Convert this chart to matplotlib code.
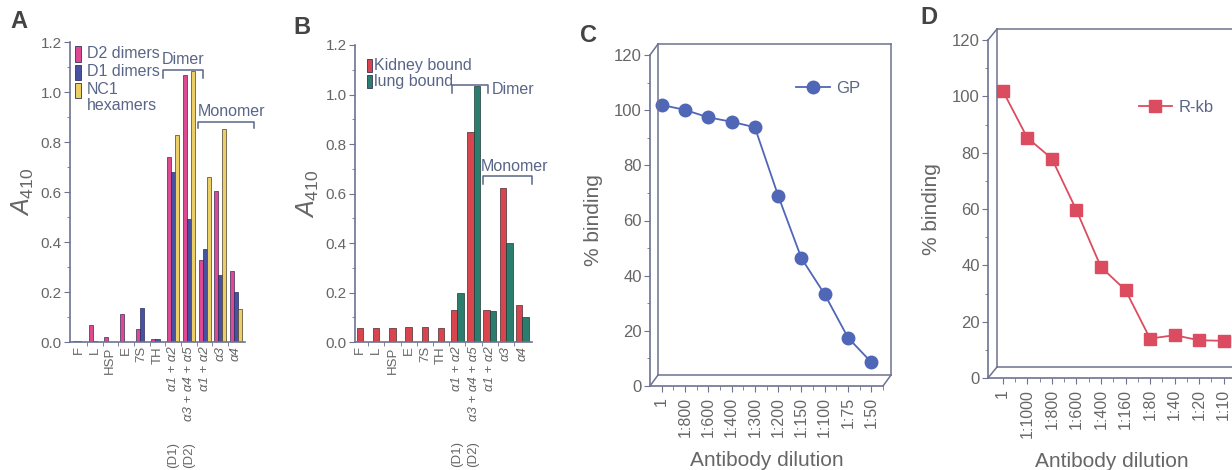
import numpy as np
import matplotlib
matplotlib.use("Agg")
import matplotlib.pyplot as plt
from matplotlib.lines import Line2D
from matplotlib.patches import Rectangle

plt.rcParams['font.family'] = ['Liberation Sans', 'DejaVu Sans']
plt.rcParams['mathtext.fontset'] = 'custom'
plt.rcParams['mathtext.rm'] = 'Liberation Sans'
plt.rcParams['mathtext.it'] = 'Liberation Sans:italic'

# ---- data ----
cats = ['F', 'L', 'HSP', 'E', '7S', 'TH', 'α1 + α2', 'α3 + α4 + α5', 'α1 + α2', 'α3', 'α4']
d2_dimers = [0.005, 0.07, 0.02, 0.113, 0.053, 0.013, 0.74, 1.067, 0.327, 0.603, 0.284]
d1_dimers = [0.004, 0.005, 0.0, 0.0, 0.136, 0.013, 0.68, 0.493, 0.373, 0.267, 0.20]
nc1_hexamers = [0.0, 0.0, 0.0, 0.0, 0.0, 0.0, 0.827, 1.083, 0.66, 0.853, 0.133]

kidney_bound = [0.058, 0.058, 0.055, 0.062, 0.062, 0.055, 0.128, 0.847, 0.13, 0.623, 0.148]
lung_bound = [np.nan, np.nan, np.nan, np.nan, np.nan, np.nan, 0.2, 1.034, 0.125, 0.40, 0.101]

gp_dilutions = ['1', '1:800', '1:600', '1:400', '1:300', '1:200', '1:150', '1:100', '1:75', '1:50']
gp_binding = [101.9, 100.1, 97.4, 95.8, 93.8, 69.0, 46.3, 33.2, 17.5, 8.6]

rkb_dilutions = ['1', '1:1000', '1:800', '1:600', '1:400', '1:160', '1:80', '1:40', '1:20', '1:10']
rkb_binding = [102.0, 85.3, 77.9, 59.6, 39.4, 31.2, 14.0, 15.2, 13.4, 13.2]

# ---- style ----
W, H = 1232, 470
TXT = '#5a6688'
TICK = '#666666'
AXC = '#6d7391'
PINK, BLUE, YELLOW = '#de4a92', '#4752a3', '#ebcf66'
RED, TEAL = '#d8454f', '#2b7d6e'
C_BLUE, D_RED = '#5066b6', '#dc4c60'


def rect(l, t, r, b):
    return [l / W, 1 - b / H, (r - l) / W, (b - t) / H]


def fx(x):
    return x / W


def fy(y):
    return 1 - y / H


fig = plt.figure(figsize=(W / 100, H / 100), dpi=100)


def style_bar_axes(ax, ymax=1.2):
    for s in ['top', 'right']:
        ax.spines[s].set_visible(False)
    for s in ['left', 'bottom']:
        ax.spines[s].set_color(AXC)
        ax.spines[s].set_linewidth(1.2)
    ax.set_ylim(0, ymax)
    ax.set_yticks(np.arange(0, 1.21, 0.2))
    ax.set_yticklabels(['%.1f' % v for v in np.arange(0, 1.21, 0.2)])
    ax.set_yticks(np.arange(0.1, 1.2, 0.2), minor=True)
    ax.tick_params(axis='y', which='major', length=4, color=AXC, labelcolor=TICK, labelsize=11, pad=2)
    ax.tick_params(axis='y', which='minor', length=2.5, color=AXC)
    x = np.arange(len(cats))
    ax.set_xticks(x)
    ax.set_xticklabels(cats, rotation=90, fontsize=9.5, color=TICK)
    ax.set_xticks(x[:-1] + 0.5, minor=True)
    ax.tick_params(axis='x', which='major', length=0, pad=3)
    ax.tick_params(axis='x', which='minor', length=3, color=AXC)
    for lab in ax.get_xticklabels()[6:]:
        lab.set_fontstyle('italic')
    ax.set_ylabel('$A_{410}$', fontsize=18, color=TICK, labelpad=3)
    for i, s in [(6, '(D1)'), (7, '(D2)')]:
        ax.text(i, -0.42, s, rotation=90, ha='center', va='bottom', fontsize=9.5,
                color=TICK, transform=ax.get_xaxis_transform(), clip_on=False)


def bracket(ax, x0, x1, y, drop):
    ax.plot([x0, x0, x1, x1], [y - drop, y, y, y - drop], color=TXT, lw=1.1, clip_on=False)


def manual_legend(ax, items, x0, y0, dy, size, gap, fs):
    for k, (col, lab) in enumerate(items):
        yy = y0 - k * dy
        ax.add_patch(Rectangle((x0, yy - size / 2), size * 0.6, size, transform=ax.transAxes,
                               facecolor=col, edgecolor='#33335a', lw=0.6, clip_on=False))
        ax.text(x0 + size * 0.6 + gap, yy, lab, transform=ax.transAxes, ha='left', va='center',
                fontsize=fs, color=TXT)


# ---- panel A ----
axA = fig.add_axes(rect(70, 42, 245, 342))
x = np.arange(len(cats))
w = 0.26
axA.bar(x - w, d2_dimers, w, color=PINK, edgecolor='#3a2a5a', lw=0.5)
axA.bar(x, d1_dimers, w, color=BLUE, edgecolor='#2a2a5a', lw=0.5)
axA.bar(x + w, nc1_hexamers, w, color=YELLOW, edgecolor='#4a4030', lw=0.5)
axA.set_xlim(-0.57, 10.57)
style_bar_axes(axA)
manual_legend(axA, [(PINK, 'D2 dimers'), (BLUE, 'D1 dimers'), (YELLOW, 'NC1')],
              0.03, 0.96, 0.06, 0.05, 0.035, 11.5)
axA.text(0.03 + 0.03 + 0.035, 0.96 - 3 * 0.06 + 0.01, 'hexamers', transform=axA.transAxes,
         ha='left', va='center', fontsize=11.5, color=TXT)
bracket(axA, 5.35, 7.9, 1.088, 0.03)
axA.text(6.65, 1.1, 'Dimer', ha='center', va='bottom', fontsize=11.5, color=TXT)
bracket(axA, 7.58, 11.15, 0.88, 0.025)
axA.text(7.58, 0.892, 'Monomer', ha='left', va='bottom', fontsize=11.5, color=TXT)
fig.text(fx(10), fy(22), 'A', fontsize=17, fontweight='bold', color='#444444', va='center')

# ---- panel B ----
axB = fig.add_axes(rect(355, 45, 532, 342))
wb = 0.4
lung = np.array(lung_bound)
single = np.isnan(lung)
kid_x = np.where(single, x, x - wb / 2)
axB.bar(kid_x, kidney_bound, wb, color=RED, edgecolor='#4a2a30', lw=0.5)
axB.bar(x + wb / 2, np.nan_to_num(lung), wb, color=TEAL, edgecolor='#1f3a35', lw=0.5)
axB.set_xlim(-0.31, 10.6)
style_bar_axes(axB)
manual_legend(axB, [(RED, 'Kidney bound'), (TEAL, 'lung bound')],
              0.07, 0.93, 0.053, 0.045, 0.012, 11.5)
bracket(axB, 5.68, 7.9, 1.038, 0.032)
axB.text(8.1, 1.022, 'Dimer', ha='left', va='center', fontsize=11.5, color=TXT)
bracket(axB, 7.6, 10.6, 0.671, 0.033)
axB.text(9.55, 0.68, 'Monomer', ha='center', va='bottom', fontsize=11.5, color=TXT)
fig.text(fx(293), fy(27), 'B', fontsize=17, fontweight='bold', color='#444444', va='center')


# ---- panels C and D (3D-style box) ----
def box_axes(l, t, r, b, dx, dy, dil, vals, col, marker, ms, label, leg_anchor, xl, letter, letter_xy):
    ax = fig.add_axes(rect(l, t, r, b))
    xi = np.arange(len(dil))
    ax.plot(xi, vals, color=col, lw=1.3, marker=marker, ms=ms, mfc=col, mec=col, label=label,
            clip_on=False)
    ax.set_xlim(*xl)
    ax.set_ylim(0, 120)
    for s in ['top', 'right']:
        ax.spines[s].set_visible(False)
    for s in ['left', 'bottom']:
        ax.spines[s].set_color(AXC)
        ax.spines[s].set_linewidth(1.2)
    ax.set_yticks(np.arange(0, 121, 20))
    ax.set_yticks(np.arange(10, 120, 20), minor=True)
    ax.set_xticks(xi)
    ax.set_xticklabels(dil, rotation=90, fontsize=11.5, color=TICK)
    ax.set_xticks(xi + 0.5, minor=True)
    ax.tick_params(axis='y', which='major', length=4, color=AXC, labelcolor=TICK, labelsize=12, pad=2)
    ax.tick_params(axis='y', which='minor', length=2.5, color=AXC)
    ax.tick_params(axis='x', which='major', length=4, color=AXC, pad=4)
    ax.tick_params(axis='x', which='minor', length=3, color=AXC)
    ax.set_ylabel('% binding', fontsize=15, color=TICK, labelpad=8)
    ax.set_xlabel('Antibody dilution', fontsize=15, color=TICK, labelpad=10)
    leg = ax.legend(loc='center left', bbox_to_anchor=leg_anchor, frameon=False, fontsize=12,
                    handlelength=2.0, handletextpad=0.4, borderaxespad=0)
    for txt in leg.get_texts():
        txt.set_color(TXT)
    # back wall and floor edges
    bl, bt, br, bb = l + dx, t + dy, r + dx, b + dy
    segs = [((bl, bl), (bt, bb)), ((bl, br), (bt, bt)), ((br, br), (bt, bb)), ((bl, br), (bb, bb)),
            ((l, bl), (t, bt)), ((l, bl), (b, bb)), ((r, br), (b, bb))]
    for xs, ys in segs:
        fig.add_artist(Line2D([fx(v) for v in xs], [fy(v) for v in ys], color=AXC, lw=1.1,
                              transform=fig.transFigure))
    fig.text(fx(letter_xy[0]), fy(letter_xy[1]), letter, fontsize=17, fontweight='bold',
             color='#444444', va='center')
    return ax


axC = box_axes(650, 55, 883, 386, 8, -11, gp_dilutions, gp_binding, C_BLUE, 'o', 9, 'GP',
               (0.60, 0.90), (-0.5, 9.42), 'C', (580, 35))
axD = box_axes(988, 40, 1236, 378, 9, -11, rkb_dilutions, rkb_binding, D_RED, 's', 8.5, 'R-kb',
               (0.58, 0.80), (-0.6, 9.5), 'D', (920, 17))

fig.savefig('out.png', dpi=100)
